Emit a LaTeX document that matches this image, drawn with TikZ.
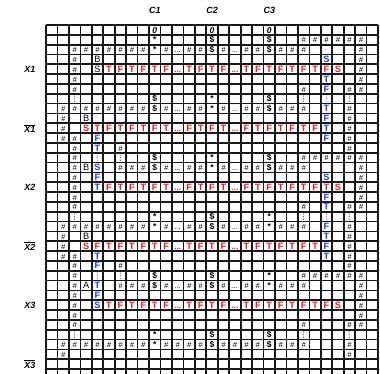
\documentclass[tikz,border=0pt]{standalone}
\usepackage{fontspec}
\setmainfont{Liberation Sans}
\newfontfamily\djv{DejaVu Sans}
\definecolor{tred}{RGB}{228,30,30}
\definecolor{tblue}{RGB}{30,60,232}
\newcommand\cH{{\fontsize{7.6}{7.6}\selectfont\itshape\#}}
\newcommand\cD{{\fontsize{8.5}{8.5}\selectfont\bfseries\$}}
\newcommand\cS{{\fontsize{8.5}{8.5}\selectfont\bfseries *}}
\newcommand\cZ{{\fontsize{8.5}{8.5}\selectfont\bfseries\itshape 0}}
\newcommand\cV{{\djv\fontsize{7.5}{7.5}\selectfont ⋮}}
\newcommand\bV{{\djv\fontsize{7.5}{7.5}\selectfont\color{tblue}⋮}}
\newcommand\cE{{\fontsize{7.5}{7.5}\selectfont ...}}
\newcommand\rE{{\fontsize{8}{8}\selectfont\bfseries\color{tred}...}}
\newcommand\rT{{\bfseries\color{tred}T}}
\newcommand\rF{{\bfseries\color{tred}F}}
\newcommand\rS{{\bfseries\color{tred}S}}
\newcommand\bT{{\bfseries\color{tblue}T}}
\newcommand\bF{{\bfseries\color{tblue}F}}
\newcommand\bS{{\bfseries\color{tblue}S}}
\newcommand\kB{B}
\newcommand\kS{S}
\newcommand\kA{A}
\newcommand\rowc[2]{\foreach \c/\t in {#2}{\node[cell] (n-\c-#1) at (\c+0.5,#1+0.82) {\t};}}
\tikzset{
  cell/.style={anchor=base, inner sep=0pt, font=\fontsize{9.2}{9.2}\selectfont},
  gl/.style={line width=1.7pt, black!90},
  lab/.style={inner sep=0pt, font=\fontsize{9}{9}\selectfont\bfseries\itshape}
}
\begin{document}
\begin{tikzpicture}[x=11.45pt, y=-9.83pt]
\useasboundingbox (-4.0175,-2.5432) rectangle (29.170,35.5036);
\clip (-4.0175,-2.5432) rectangle (29.170,35.5036);
\fill[white] (-4.0175,-2.5432) rectangle (29.170,35.5036);
% grid
\foreach \i in {0,...,29} \draw[gl] (\i,0) -- (\i,37);
\foreach \j in {0,...,37} \draw[gl] (0,\j) -- (29,\j);
% labels
\node[lab] (lc1) at (9.5,-1.5) {C1};
\node[lab] (lc2) at (14.5,-1.5) {C2};
\node[lab] (lc3) at (19.5,-1.5) {C3};
\node[lab] (lx1) at (-1.4,4.5) {X1};
\node[lab] (lx1b) at (-1.4,10.5) {$\overline{\mbox{X1}}$};
\node[lab] (lx2) at (-1.4,16.5) {X2};
\node[lab] (lx2b) at (-1.4,22.5) {$\overline{\mbox{X2}}$};
\node[lab] (lx3) at (-1.4,28.5) {X3};
\node[lab] (lx3b) at (-1.4,34.5) {$\overline{\mbox{X3}}$};
% cells
\rowc{0}{9/\cZ,14/\cZ,19/\cZ}
\rowc{1}{9/\cS,14/\cD,19/\cD,22/\cH,23/\cH,24/\cH,25/\cH,26/\cH,27/\cH}
\rowc{2}{2/\cH,3/\cH,4/\cH,5/\cH,6/\cH,7/\cH,8/\cH,9/\cS,10/\cH,11/\cE,12/\cH,13/\cH,14/\cD,15/\cH,16/\cE,17/\cH,18/\cH,19/\cD,20/\cH,21/\cH,22/\cH,27/\cH}
\rowc{3}{2/\cH,4/\kB,24/\bS,27/\cH}
\rowc{4}{2/\cH,4/\kS,5/\rT,6/\rF,7/\rT,8/\rF,9/\rT,10/\rF,11/\rE,12/\rT,13/\rF,14/\rT,15/\rF,16/\rE,17/\rT,18/\rF,19/\rT,20/\rF,21/\rT,22/\rF,23/\rT,24/\rF,25/\rS,27/\cH}
\rowc{5}{2/\cH,24/\bT,27/\cH}
\rowc{6}{2/\cH,22/\cH,24/\bF,26/\cH,27/\cH}
\rowc{7}{2/\cV,9/\cD,14/\cS,19/\cD,22/\cV,24/\bV,26/\cV}
\rowc{8}{1/\cH,2/\cH,3/\cH,4/\cH,5/\cH,6/\cH,7/\cH,8/\cH,9/\cD,10/\cH,11/\cE,12/\cH,13/\cH,14/\cS,15/\cH,16/\cE,17/\cH,18/\cH,19/\cD,20/\cH,21/\cH,22/\cH,24/\bT,26/\cH}
\rowc{9}{1/\cH,3/\kB,24/\bF,26/\cH}
\rowc{10}{1/\cH,3/\rS,4/\rT,5/\rF,6/\rT,7/\rF,8/\rT,9/\rF,10/\rT,11/\rE,12/\rF,13/\rT,14/\rF,15/\rT,16/\rE,17/\rF,18/\rT,19/\rF,20/\rT,21/\rF,22/\rT,23/\rF,24/\bT,26/\cH}
\rowc{11}{1/\cH,2/\cH,4/\bF,24/\bF,26/\cH}
\rowc{12}{2/\cH,4/\bT,6/\cH,26/\cH}
\rowc{13}{2/\cH,4/\bV,6/\cV,9/\cD,14/\cS,19/\cD,22/\cH,23/\cH,24/\cH,25/\cH,26/\cH,27/\cH}
\rowc{14}{2/\cH,3/\kB,4/\bS,6/\cH,7/\cH,8/\cH,9/\cD,10/\cH,11/\cE,12/\cH,13/\cH,14/\cS,15/\cH,16/\cE,17/\cH,18/\cH,19/\cD,20/\cH,21/\cH,22/\cH,27/\cH}
\rowc{15}{2/\cH,4/\bF,24/\bS,27/\cH}
\rowc{16}{2/\cH,4/\bT,5/\rF,6/\rT,7/\rF,8/\rT,9/\rF,10/\rT,11/\rE,12/\rF,13/\rT,14/\rF,15/\rT,16/\rE,17/\rF,18/\rT,19/\rF,20/\rT,21/\rF,22/\rT,23/\rF,24/\rT,25/\rS,27/\cH}
\rowc{17}{2/\cH,24/\bF,27/\cH}
\rowc{18}{2/\cH,22/\cH,24/\bT,26/\cH,27/\cH}
\rowc{19}{2/\cV,9/\cS,14/\cD,19/\cS,22/\cV,24/\bV,26/\cV}
\rowc{20}{1/\cH,2/\cH,3/\cH,4/\cH,5/\cH,6/\cH,7/\cH,8/\cH,9/\cS,10/\cH,11/\cE,12/\cH,13/\cH,14/\cD,15/\cH,16/\cE,17/\cH,18/\cH,19/\cS,20/\cH,21/\cH,22/\cH,24/\bF,26/\cH}
\rowc{21}{1/\cH,3/\kB,24/\bT,26/\cH}
\rowc{22}{1/\cH,3/\rS,4/\rF,5/\rT,6/\rF,7/\rT,8/\rF,9/\rT,10/\rF,11/\rE,12/\rT,13/\rF,14/\rT,15/\rF,16/\rE,17/\rT,18/\rF,19/\rT,20/\rF,21/\rT,22/\rF,23/\rT,24/\bF,26/\cH}
\rowc{23}{1/\cH,2/\cH,4/\bT,24/\bT,26/\cH}
\rowc{24}{2/\cH,4/\bF,6/\cH,26/\cH}
\rowc{25}{2/\cH,4/\bV,6/\cV,9/\cD,14/\cD,19/\cS,22/\cH,23/\cH,24/\cH,25/\cH,26/\cH,27/\cH}
\rowc{26}{2/\cH,3/\kA,4/\bT,6/\cH,7/\cH,8/\cH,9/\cD,10/\cH,11/\cE,12/\cH,13/\cH,14/\cD,15/\cH,16/\cE,17/\cH,18/\cH,19/\cS,20/\cH,21/\cH,22/\cH,27/\cH}
\rowc{27}{2/\cH,4/\bF,27/\cH}
\rowc{28}{2/\cH,4/\bS,5/\rT,6/\rF,7/\rT,8/\rF,9/\rT,10/\rF,11/\rE,12/\rT,13/\rF,14/\rT,15/\rF,16/\rE,17/\rT,18/\rF,19/\rT,20/\rF,21/\rT,22/\rF,23/\rT,24/\rF,25/\rS,27/\cH}
\rowc{29}{2/\cH,27/\cH}
\rowc{30}{2/\cH,22/\cH,26/\cH,27/\cH}
\rowc{31}{2/\cV,9/\cS,14/\cD,19/\cD,22/\cV,26/\cV}
\rowc{32}{1/\cH,2/\cH,3/\cH,4/\cH,5/\cH,6/\cH,7/\cH,8/\cH,9/\cS,10/\cH,11/\cH,12/\cH,13/\cH,14/\cD,15/\cH,16/\cH,17/\cH,18/\cH,19/\cD,20/\cH,21/\cH,22/\cH,26/\cH}
\rowc{33}{1/\cH,26/\cH}
\end{tikzpicture}
\end{document}
